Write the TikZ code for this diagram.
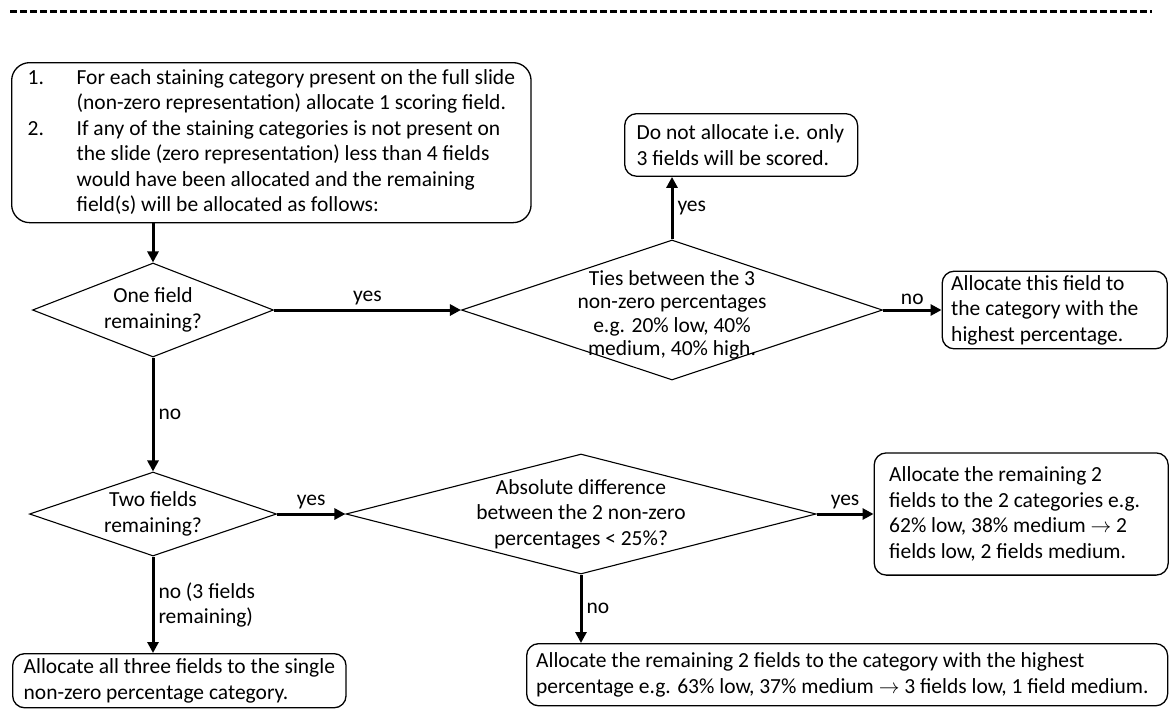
\documentclass[tikz,border=0pt]{standalone}
\usepackage{fontspec}
\setmainfont{Carlito}
\usetikzlibrary{arrows.meta, positioning, shapes.geometric}

\begin{document}
\begin{tikzpicture}[
  x=1pt, y=-1pt,
  font=\fontsize{21.5}{25.5}\selectfont,
  box/.style={draw, line width=1.3pt, rounded corners=12pt, align=flush left, inner xsep=9pt, inner ysep=5pt},
  decision/.style={diamond, draw, line width=1.1pt, inner sep=0pt},
  dtext/.style={align=center, inner sep=0pt},
  arrow/.style={-{Triangle[length=11pt, width=11pt]}, line width=3pt},
  lbl/.style={inner sep=4pt},
  sepline/.style={line width=3pt, dash pattern=on 7pt off 3pt}
]
\useasboundingbox (0,0) rectangle (1169,710);

\draw[sepline] (10,11) -- (1152,11);

\node[box, anchor=north west, rounded corners=18pt, inner xsep=16pt, inner ysep=3.5pt] (intro) at (11,62) {%
  \begin{tabular}{@{}p{49pt}@{}l@{}}
  1. & For each staining category present on the full slide\\
     & (non-zero representation) allocate 1 scoring field.\\
  2. & If any of the staining categories is not present on\\
     & the slide (zero representation) less than 4 fields\\
     & would have been allocated and the remaining\\
     & field(s) will be allocated as follows:
  \end{tabular}};

\node[decision, minimum width=241pt, minimum height=94pt] (one) at (153,310) {};
\node[dtext] (onetxt) at (one) {One field\\remaining?};

\node[decision, minimum width=421pt, minimum height=140pt] (ties) at (672,310) {};
\node[dtext, yshift=-5pt] (tiestxt) at (ties) {Ties between the 3\\[-2pt]non-zero percentages\\[-2pt]e.g. 20\% low, 40\%\\[-2pt]medium, 40\% high.};

\node[decision, minimum width=247pt, minimum height=84pt] (two) at (153,514) {};
\node[dtext] (twotxt) at (two) {Two fields\\remaining?};

\node[decision, minimum width=470pt, minimum height=120pt] (diff) at (581,514) {};
\node[dtext] (difftxt) at (diff) {Absolute difference\\between the 2 non-zero\\percentages < 25\%?};

\node[box, anchor=north west, text width=209pt, inner xsep=12pt, inner ysep=11pt] (skip) at (624,113) {Do not allocate i.e. only\\3 fields will be scored.};
\node[box, right=58.5pt of ties, text width=207pt, inner ysep=4pt] (highest) {Allocate this field to\\the category with the\\highest percentage.};
\node[box, right=57pt of diff, text width=264pt, inner xsep=15pt, inner ysep=14pt] (remain) {Allocate the remaining 2\\fields to the 2 categories e.g.\\62\% low, 38\% medium $\rightarrow$ 2\\fields low, 2 fields medium.};
\node[box, anchor=north west, inner xsep=11pt] (allthree) at (12,653) {Allocate all three fields to the single\\non-zero percentage category.};
\node[box, anchor=north west, text width=622pt, inner xsep=9.5pt, inner ysep=9pt] (maxcat) at (526,643) {Allocate the remaining 2 fields to the category with the highest\\percentage e.g. 63\% low, 37\% medium $\rightarrow$ 3 fields low, 1 field medium.};

\draw[arrow] (intro.south -| one.north) -- (one.north);
\draw[arrow] (one.east) -- node[lbl, above] {yes} (ties.west);
\draw[arrow] (one.south) -- node[lbl, right] {no} (two.north);
\draw[arrow] (ties.north) -- node[lbl, right] {yes} (ties.north |- skip.south);
\draw[arrow] (ties.east) -- node[lbl, above] {no} (highest.west);
\draw[arrow] (two.east) -- node[lbl, above] {yes} (diff.west);
\draw[arrow] (two.south) -- node[lbl, right, align=left] {no (3 fields\\remaining)} (two.south |- allthree.north);
\draw[arrow] (diff.east) -- node[lbl, above] {yes} (remain.west);
\draw[arrow] (diff.south) -- node[lbl, right] {no} (diff.south |- maxcat.north);

\end{tikzpicture}
\end{document}
